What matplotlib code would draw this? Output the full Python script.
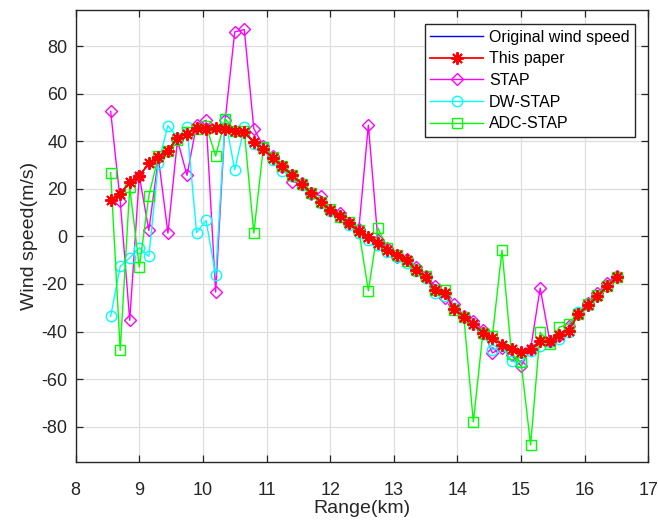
import numpy as np
import matplotlib
matplotlib.use("Agg")
import matplotlib.pyplot as plt

# Range gates (km)
range_km = np.round(8.55 + 0.15 * np.arange(54), 2)

# Wind speed series (m/s)
original = [15.5, 18.3, 22.6, 25.8, 30.3, 33.5, 36.8, 40.8, 43.6, 45.8, 46.5, 46.6, 46.2,
            45.0, 43.4, 40.0, 36.8, 33.0, 29.4, 25.9, 22.1, 18.3, 14.5, 11.2, 8.3, 5.5,
            2.2, -0.4, -2.9, -5.7, -8.2, -10.6, -14.0, -17.3, -21.8, -24.5, -29.8, -33.5,
            -36.8, -40.4, -42.9, -45.5, -47.3, -48.4, -47.6, -44.5, -43.5, -41.2, -38.6,
            -32.9, -28.8, -25.0, -21.0, -17.1]
this_paper = [15.4, 17.9, 22.8, 25.3, 30.8, 33.3, 35.9, 41.5, 43.1, 45.7, 45.2, 45.5, 45.2,
              44.5, 43.8, 39.6, 36.8, 32.9, 29.4, 25.9, 22.1, 18.2, 14.4, 11.2, 8.4, 5.6,
              2.1, -0.3, -2.8, -5.6, -8.0, -10.1, -14.0, -17.1, -22.7, -23.6, -30.6, -33.7,
              -36.7, -40.5, -42.8, -45.6, -47.3, -48.4, -47.4, -43.8, -43.8, -41.4, -39.6,
              -32.7, -28.8, -25.0, -21.0, -17.1]
stap = [52.6, 14.9, -35.3, 25.4, 2.5, 33.0, 1.4, 40.5, 25.7, 47.0, 48.8, -23.4, 49.0,
        86.0, 87.0, 45.3, 38.0, 34.0, 29.0, 23.0, 22.5, 18.0, 17.0, 11.0, 10.0, 5.5,
        3.0, 46.8, -1.5, -5.0, -8.5, -9.5, -13.0, -16.5, -20.8, -26.0, -28.6, -33.3,
        -35.6, -39.3, -49.0, -47.0, -50.0, -54.5, -47.4, -21.7, -43.8, -42.0, -37.5,
        -32.0, -27.8, -23.8, -19.6, -16.5]
dw_stap = [-33.6, -12.6, -9.0, -4.8, -8.4, 31.0, 46.6, 41.5, 46.0, 1.6, 6.7, -16.4, 49.5,
           28.0, 46.0, 39.0, 37.0, 32.0, 27.5, 25.5, 21.5, 18.0, 14.0, 10.5, 8.0, 5.0,
           1.5, -1.5, -3.5, -6.5, -8.5, -11.0, -14.5, -17.5, -23.8, -25.0, -30.0, -34.0,
           -37.0, -41.0, -47.7, -46.0, -52.6, -53.0, -48.0, -46.0, -44.5, -43.2, -40.0,
           -31.6, -29.0, -25.0, -21.0, -17.0]
adc_stap = [26.8, -47.9, 20.7, -12.9, 17.0, 33.8, 35.9, 40.6, 43.8, 45.3, 46.6, 33.8, 49.4,
            44.5, 44.3, 1.4, 37.5, 33.3, 29.8, 25.9, 22.1, 18.2, 14.4, 11.6, 8.1, 6.0,
            2.5, -22.9, 3.5, -4.9, -7.7, -10.5, -14.0, -16.8, -22.7, -22.7, -30.9, -33.7,
            -78.0, -40.5, -41.8, -5.8, -49.4, -53.0, -87.7, -40.3, -45.2, -38.2, -36.8,
            -32.5, -28.5, -24.8, -20.8, -17.0]

plt.rcParams['font.family'] = ['Liberation Sans', 'DejaVu Sans']
plt.rcParams['axes.unicode_minus'] = False

fig = plt.figure(figsize=(6.58, 5.23), dpi=100)
ax = fig.add_axes([0.115, 0.116, 0.9853 - 0.115, 0.980 - 0.116])

ax.plot(range_km, original, color='#0000ff', lw=1.0, label='Original wind speed', zorder=3)
ax.plot(range_km, this_paper, color='#ff0000', lw=1.3, marker=(8, 2, 0), ms=9, mew=1.4,
        label='This paper', zorder=6)
ax.plot(range_km, stap, color='#ff00ff', lw=1.0, marker='D', ms=6, mfc='none', mew=1.0,
        label='STAP', zorder=4)
ax.plot(range_km, dw_stap, color='#00ffff', lw=1.0, marker='o', ms=7.5, mfc='none', mew=1.0,
        label='DW-STAP', zorder=4)
ax.plot(range_km, adc_stap, color='#00ff00', lw=1.0, marker='s', ms=6.5, mfc='none', mew=1.0,
        label='ADC-STAP', zorder=5)

ax.set_xlim(8, 17)
ax.set_ylim(-95, 95)
ax.set_xticks(np.arange(8, 18, 1))
ax.set_yticks(np.arange(-80, 81, 20))

ax.grid(True, color='#dedede', lw=0.9)
ax.set_axisbelow(True)
for s in ax.spines.values():
    s.set_color('#262626')
    s.set_linewidth(1.0)
ax.tick_params(direction='in', top=True, right=True, length=5, width=0.9,
               colors='#262626', labelsize=13)
ax.tick_params(axis='x', pad=14)
ax.tick_params(axis='y', pad=6)

ax.set_xlabel('Range(km)', fontsize=14, color='#262626', labelpad=1)
ax.set_ylabel('Wind speed(m/s)', fontsize=14, color='#262626', labelpad=2)

leg = ax.legend(loc='upper right', bbox_to_anchor=(635 / 658, 1 - 24 / 523),
                bbox_transform=fig.transFigure, borderaxespad=0, fancybox=False,
                framealpha=1, edgecolor='#262626', fontsize=11.5, numpoints=1,
                handlelength=3.3, handletextpad=0.35, labelspacing=0.42, borderpad=0.35)
leg.get_frame().set_linewidth(1.0)

fig.savefig('out.png', dpi=100)
